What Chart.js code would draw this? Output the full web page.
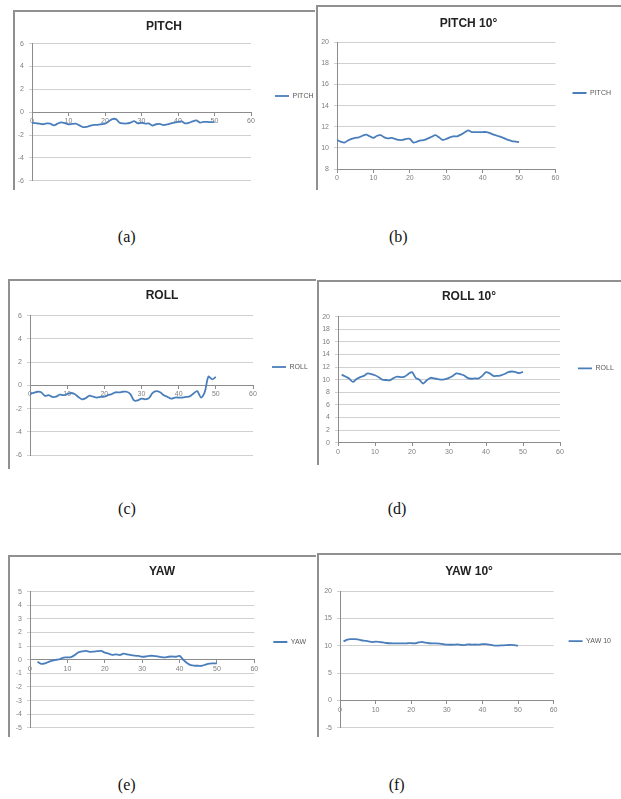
<!DOCTYPE html>
<html><head><meta charset="utf-8">
<script src="https://cdn.jsdelivr.net/npm/chart.js@4/dist/chart.umd.min.js"></script>
<style>
html,body{margin:0;padding:0;background:#fff;}
body{width:621px;height:799px;position:relative;overflow:hidden;}
.frame{position:absolute;border-top:2px solid #909090;border-left:2px solid #909090;box-sizing:border-box;}
canvas{position:absolute;}
.cap{position:absolute;font-family:'Liberation Serif','Times New Roman',serif;font-size:16px;color:#111;transform:translate(-50%,-50%);white-space:nowrap;}
</style></head><body>
<script>
// ---------- DATA ----------
const xTicks = [0, 10, 20, 30, 40, 50, 60];

const pitchYTicks = [-6, -4, -2, 0, 2, 4, 6];
const pitchStart = 0;
const pitch = [-0.92,-0.95,-1.0,-1.05,-0.98,-1.0,-1.15,-1.0,-0.88,-0.95,-1.05,-1.02,-1.0,-1.15,-1.3,-1.27,-1.18,-1.1,-1.1,-1.05,-1.0,-0.8,-0.6,-0.6,-0.92,-0.98,-0.98,-0.9,-0.78,-0.98,-0.92,-1.0,-0.98,-1.16,-1.05,-1.02,-1.12,-1.07,-0.98,-0.9,-0.85,-0.8,-0.98,-0.92,-0.8,-0.72,-0.9,-0.85,-0.85,-0.87,-0.87];

const pitch10YTicks = [8, 10, 12, 14, 16, 18, 20];
const pitch10Start = 0;
const pitch10 = [10.75,10.6,10.5,10.7,10.85,10.95,11.0,11.15,11.25,11.1,10.95,11.15,11.2,11.0,10.9,10.95,10.85,10.75,10.75,10.85,10.85,10.5,10.6,10.7,10.75,10.9,11.05,11.2,11.0,10.75,10.85,11.0,11.1,11.1,11.25,11.45,11.65,11.5,11.5,11.5,11.5,11.5,11.4,11.25,11.15,11.05,10.9,10.75,10.65,10.6,10.55];

const rollYTicks = [-6, -4, -2, 0, 2, 4, 6];
const rollStart = 0;
const roll = [-0.72,-0.65,-0.55,-0.6,-0.9,-0.85,-1.0,-0.98,-0.8,-0.85,-0.75,-0.66,-0.75,-1.0,-1.2,-1.1,-0.88,-0.98,-1.05,-1.0,-0.98,-0.85,-0.75,-0.6,-0.6,-0.55,-0.55,-0.75,-1.3,-1.3,-1.15,-1.2,-1.1,-0.65,-0.5,-0.6,-0.85,-1.0,-1.15,-1.05,-1.05,-1.05,-1.0,-0.95,-0.7,-0.5,-1.05,-0.6,0.75,0.52,0.72];

const roll10YTicks = [0, 2, 4, 6, 8, 10, 12, 14, 16, 18, 20];
const roll10Start = 1;
const roll10 = [10.8,10.5,10.2,9.65,10.1,10.4,10.6,11.0,10.9,10.7,10.4,10.0,9.95,9.9,10.25,10.5,10.4,10.5,10.9,11.2,10.3,10.0,9.4,9.9,10.3,10.2,10.1,10.0,10.1,10.3,10.6,11.0,10.9,10.7,10.3,10.15,10.2,10.2,10.6,11.2,11.0,10.6,10.6,10.7,10.9,11.2,11.3,11.2,11.05,11.25];

const yawYTicks = [-5, -4, -3, -2, -1, 0, 1, 2, 3, 4, 5];
const yawStart = 2;
const yaw = [-0.15,-0.3,-0.27,-0.15,-0.06,0.0,0.05,0.16,0.17,0.2,0.35,0.55,0.62,0.65,0.58,0.6,0.63,0.65,0.53,0.45,0.36,0.4,0.34,0.45,0.4,0.34,0.3,0.28,0.22,0.24,0.29,0.29,0.25,0.2,0.17,0.22,0.24,0.22,0.28,0.0,-0.24,-0.4,-0.44,-0.44,-0.44,-0.35,-0.28,-0.27,-0.27];

const yaw10YTicks = [-5, 0, 5, 10, 15, 20];
const yaw10Start = 1;
const yaw10 = [10.78,11.1,11.2,11.2,11.15,11.0,10.9,10.8,10.65,10.75,10.7,10.6,10.5,10.45,10.42,10.42,10.42,10.42,10.45,10.48,10.42,10.6,10.72,10.55,10.45,10.42,10.42,10.38,10.3,10.2,10.18,10.2,10.24,10.15,10.12,10.25,10.2,10.22,10.2,10.28,10.3,10.2,10.05,10.0,10.05,10.08,10.12,10.15,10.1,10.0];

// ---------- PANELS ----------
const panels = [
  {cap:'(a)', title:'PITCH',     label:'PITCH',  start:pitchStart,   values:pitch,   yTicks:pitchYTicks},
  {cap:'(b)', title:'PITCH 10°', label:'PITCH',  start:pitch10Start, values:pitch10, yTicks:pitch10YTicks},
  {cap:'(c)', title:'ROLL',      label:'ROLL',   start:rollStart,    values:roll,    yTicks:rollYTicks},
  {cap:'(d)', title:'ROLL 10°',  label:'ROLL',   start:roll10Start,  values:roll10,  yTicks:roll10YTicks},
  {cap:'(e)', title:'YAW',       label:'YAW',    start:yawStart,     values:yaw,     yTicks:yawYTicks},
  {cap:'(f)', title:'YAW 10°',   label:'YAW 10', start:yaw10Start,   values:yaw10,   yTicks:yaw10YTicks}
];

// ---------- LAYOUT (page pixels) ----------
const geo = [
  {fl:13,  ft:10,  fw:302, fh:180, cl:32,  cr:251, ct:43.7,  cb:182,   ty:26.7,  lx:275, ls:0, cx:126.7, cy:236.7},
  {fl:316, ft:5,   fw:305, fh:185, cl:337, cr:555, ct:42.3,  cb:169,   ty:23.3,  lx:572, ls:6, cx:398.3, cy:236.7},
  {fl:8,   ft:279, fw:308, fh:190, cl:30,  cr:253, ct:315.7, cb:455,   ty:295.7, lx:272, ls:0, cx:127,   cy:509},
  {fl:317, ft:280, fw:304, fh:185, cl:338, cr:560, ct:316.7, cb:442.7, ty:296.7, lx:578, ls:7, cx:397,   cy:509},
  {fl:8,   ft:555, fw:308, fh:182, cl:30,  cr:253, ct:591.7, cb:729,   ty:571.7, lx:272, ls:0, cx:126.7, cy:785},
  {fl:317, ft:553, fw:304, fh:184, cl:340, cr:553, ct:591,   cb:729.3, ty:571.7, lx:568, ls:0, cx:396.7, cy:785}
];

const BLUE = '#4a7ebb';
const FONT = "'Liberation Sans', Arial, sans-serif";
Chart.defaults.font.family = FONT;

panels.forEach((p, k) => {
  const g = geo[k];
  const fr = document.createElement('div');
  fr.className = 'frame';
  fr.style.left = g.fl + 'px'; fr.style.top = g.ft + 'px';
  fr.style.width = g.fw + 'px'; fr.style.height = g.fh + 'px';
  document.body.appendChild(fr);

  const cv = document.createElement('canvas');
  cv.width = g.fw; cv.height = g.fh;
  cv.style.left = g.fl + 'px'; cv.style.top = g.ft + 'px';
  cv.style.width = g.fw + 'px'; cv.style.height = g.fh + 'px';
  document.body.appendChild(cv);

  const cap = document.createElement('div');
  cap.className = 'cap';
  cap.textContent = p.cap;
  cap.style.left = g.cx + 'px'; cap.style.top = g.cy + 'px';
  document.body.appendChild(cap);

  const lh = 12 * 1.2;
  const tTop = g.ty - g.ft - lh / 2;
  const tBot = (g.ct - g.ft) - tTop - lh;
  const yMin = p.yTicks[0], yMax = p.yTicks[p.yTicks.length - 1];
  const step = p.yTicks[1] - p.yTicks[0];
  const axisY = yMin < 0 ? 0 : yMin;

  new Chart(cv, {
    type: 'line',
    data: {
      datasets: [{
        label: p.label,
        data: p.values.map((v, i) => ({x: p.start + i, y: v})),
        borderColor: BLUE, backgroundColor: BLUE,
        borderWidth: 1.8, pointRadius: 0, tension: 0.3, fill: false
      }]
    },
    options: {
      responsive: false, animation: false, devicePixelRatio: 1,
      layout: {padding: {left: 0, top: 0, right: 0, bottom: g.ft + g.fh - g.cb}},
      plugins: {
        title: {display: true, text: p.title, color: '#222',
                font: {size: 12, weight: 'bold', family: FONT},
                padding: {top: tTop, bottom: tBot}},
        legend: {
          display: true, position: 'right', align: 'center',
          maxWidth: g.fl + g.fw - g.cr,
          title: {display: g.ls > 0, text: '', font: {size: 1}, padding: {top: Math.max(0, 2 * g.ls - 1.2), bottom: 0}},
          labels: {usePointStyle: true, pointStyle: 'line', pointStyleWidth: 14, boxHeight: 6,
                   padding: g.lx - g.cr, color: '#595959', font: {size: 7, family: FONT}}
        },
        tooltip: {enabled: false}
      },
      scales: {
        x: {
          type: 'linear', min: xTicks[0], max: xTicks[xTicks.length - 1],
          position: {y: axisY},
          afterFit: s => { s.height = 0; },
          afterBuildTicks: s => { s.ticks = xTicks.map(v => ({value: v})); },
          ticks: {font: {size: 7}, color: '#7f7f7f', padding: 2, maxRotation: 0, autoSkip: false},
          grid: {drawOnChartArea: false, drawTicks: true, tickLength: 3, color: '#8c8c8c'},
          border: {color: '#8c8c8c', width: 1}
        },
        y: {
          min: yMin, max: yMax,
          afterFit: s => { s.width = g.cl - g.fl; },
          afterBuildTicks: s => { s.ticks = p.yTicks.map(v => ({value: v})); },
          ticks: {font: {size: 7}, color: '#7f7f7f', padding: 5},
          grid: {color: '#d0d0d0', tickLength: 3},
          border: {color: '#8c8c8c', width: 1}
        }
      }
    }
  });
});
</script>
</body></html>
